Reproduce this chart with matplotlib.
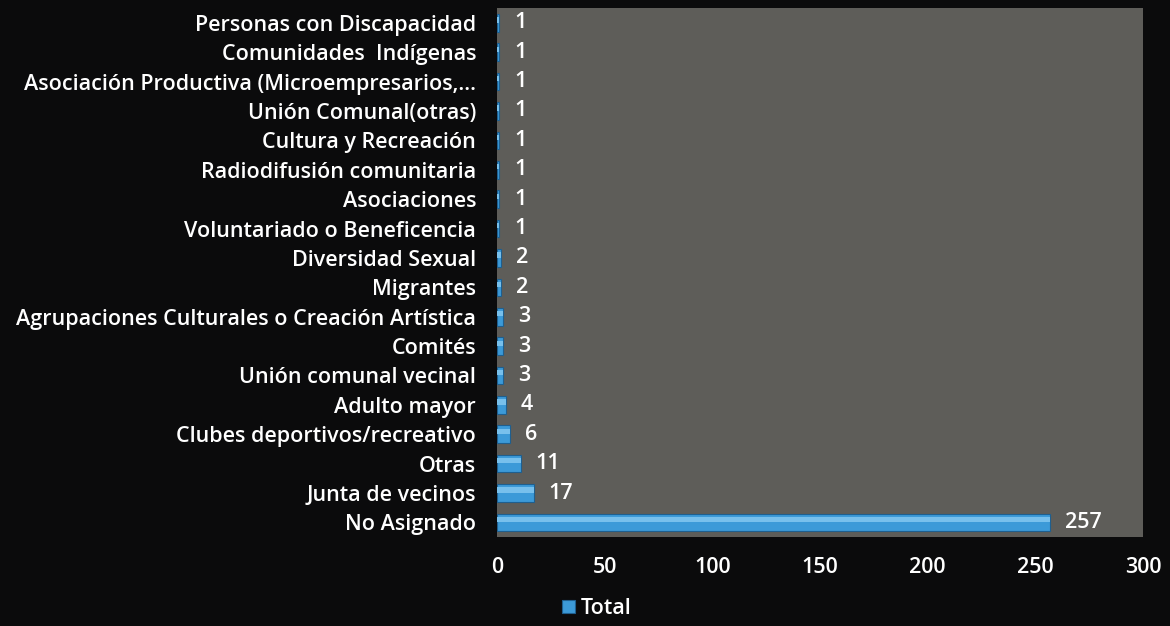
import matplotlib.pyplot as plt
import numpy as np

plt.rcParams['font.family'] = ['Open Sans', 'DejaVu Sans']

# categories from top to bottom
categorias = ['Personas con Discapacidad', 'Comunidades  Indígenas',
              'Asociación Productiva (Microempresarios,...',
              'Unión Comunal(otras)', 'Cultura y Recreación',
              'Radiodifusión comunitaria', 'Asociaciones',
              'Voluntariado o Beneficencia', 'Diversidad Sexual', 'Migrantes',
              'Agrupaciones Culturales o Creación Artística', 'Comités',
              'Unión comunal vecinal', 'Adulto mayor',
              'Clubes deportivos/recreativo', 'Otras', 'Junta de vecinos',
              'No Asignado']
totales = [1, 1, 1, 1, 1, 1, 1, 1, 2, 2, 3, 3, 3, 4, 6, 11, 17, 257]
xticks = [0, 50, 100, 150, 200, 250, 300]

fig = plt.figure(figsize=(11.7, 6.26), dpi=100)
fig.patch.set_facecolor('#0b0b0c')
ax = fig.add_axes([0.4248, 0.142, 0.5521, 0.845])
ax.set_facecolor('#5e5d59')

y = np.arange(len(categorias))
bars = ax.barh(y, totales, height=0.6, color='#3c9ad8', edgecolor='#1f5f8f',
               linewidth=0.8, label='Total')
# lighter highlight on the upper part of each bar
ax.barh(y - 0.1, totales, height=0.18, color='#78c0ec', linewidth=0)

for yi, v in zip(y, totales):
    ax.text(v + 7, yi, str(v), color='white', va='center', ha='left',
            fontsize=15.5, fontweight='semibold')

ax.set_yticks(y)
ax.set_yticklabels(categorias, fontweight='semibold')
ax.set_ylim(len(categorias) - 0.5, -0.5)
ax.set_xlim(0, 300)
ax.set_xticks(xticks)
ax.set_xticklabels([str(t) for t in xticks], fontweight='semibold')
ax.tick_params(axis='y', length=0, pad=15, labelcolor='white', labelsize=15.5)
ax.tick_params(axis='x', length=0, pad=14, labelcolor='white', labelsize=15.5)
for s in ax.spines.values():
    s.set_visible(False)

leg = fig.legend(handles=[bars], labels=['Total'], loc='center',
                 bbox_to_anchor=(0.51, 0.028), frameon=False, fontsize=15.5,
                 handlelength=0.6, handleheight=0.6, handletextpad=0.3,
                 prop={'weight': 'semibold', 'size': 15.5})
for t in leg.get_texts():
    t.set_color('white')

fig.savefig('out.png', dpi=100, facecolor=fig.get_facecolor())
